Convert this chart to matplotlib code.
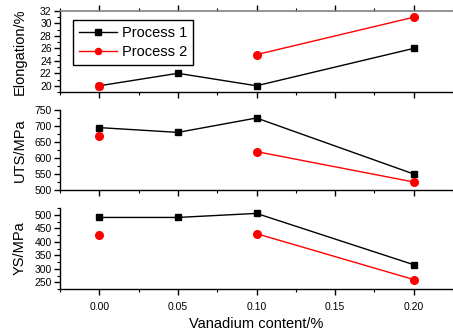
import numpy as np
import matplotlib
matplotlib.use("Agg")
import matplotlib.pyplot as plt
from matplotlib.ticker import MultipleLocator

plt.rcParams['font.family'] = ['Liberation Sans', 'DejaVu Sans']

vanadium = [0.00, 0.05, 0.10, 0.20]
elong_p1 = [20, 22, 20, 26]
elong_p2 = [20, np.nan, 25, 31]
uts_p1 = [695, 680, 725, 550]
uts_p2 = [670, np.nan, 620, 525]
ys_p1 = [490, 490, 505, 315]
ys_p2 = [425, np.nan, 430, 260]
xticks = [0.00, 0.05, 0.10, 0.15, 0.20]
labels = ["Process 1", "Process 2"]

W, H = 453, 334
fig = plt.figure(figsize=(W / 100, H / 100), dpi=100)

def ax_at(left, top, right, bottom):
    return fig.add_axes([left / W, (H - bottom) / H, (right - left) / W, (bottom - top) / H])

ax1 = ax_at(60, 11, 453, 92)
ax2 = ax_at(60, 110, 453, 190)
ax3 = ax_at(60, 208, 453, 289)

panels = [
    (ax1, elong_p1, elong_p2, "Elongation/%", (19, 32), [20, 22, 24, 26, 28, 30, 32], 1),
    (ax2, uts_p1, uts_p2, "UTS/MPa", (500, 750), [500, 550, 600, 650, 700, 750], 25),
    (ax3, ys_p1, ys_p2, "YS/MPa", (225, 525), [250, 300, 350, 400, 450, 500], 25),
]

for ax, p1, p2, ylab, ylim, yt, minor in panels:
    ax.plot(vanadium, p1, color='black', marker='s', markersize=5, lw=1, label=labels[0])
    ax.plot(vanadium, p2, color='red', marker='o', markersize=5.5, lw=1, label=labels[1])
    ax.set_xlim(-0.025, 0.225)
    ax.set_ylim(*ylim)
    ax.set_yticks(yt)
    ax.yaxis.set_minor_locator(MultipleLocator(minor))
    ax.set_xticks(xticks)
    ax.xaxis.set_minor_locator(MultipleLocator(0.025))
    ax.set_ylabel(ylab, fontsize=10.5)
    ax.tick_params(axis='y', which='major', labelsize=7.5, length=4, width=1, direction='out', pad=2)
    ax.tick_params(axis='y', which='minor', length=2, width=0.8, direction='out')
    ax.tick_params(axis='x', which='major', length=4, width=1, direction='out')
    ax.tick_params(axis='x', which='minor', length=2, width=0.8, direction='out')
    ax.spines['right'].set_visible(False)
    for s in ['left', 'bottom']:
        ax.spines[s].set_linewidth(1)
    if ax is not ax3:
        ax.tick_params(axis='x', which='both', labelbottom=False)
    if ax is not ax1:
        ax.spines['top'].set_visible(False)
    ax.set_facecolor('none')
    ax.yaxis.set_label_coords(-0.085, 0.5)

ax1.spines['top'].set_color('#808080')
ax1.spines['top'].set_linewidth(1.2)
ax1.tick_params(axis='x', which='both', top=True)

ax3.tick_params(axis='x', labelsize=7.5, pad=5)
ax3.set_xlabel("Vanadium content/%", fontsize=10.5, labelpad=4)

leg = ax1.legend(loc='upper left', bbox_to_anchor=(13 / 393, 1 - 9 / 81), borderaxespad=0,
                 fontsize=10.5, fancybox=False, edgecolor='black', framealpha=1, markerscale=0.8,
                 handlelength=2.6, borderpad=0.4, labelspacing=0.35, handletextpad=0.35)
leg.get_frame().set_linewidth(1)

fig.savefig("out.png", dpi=100)
